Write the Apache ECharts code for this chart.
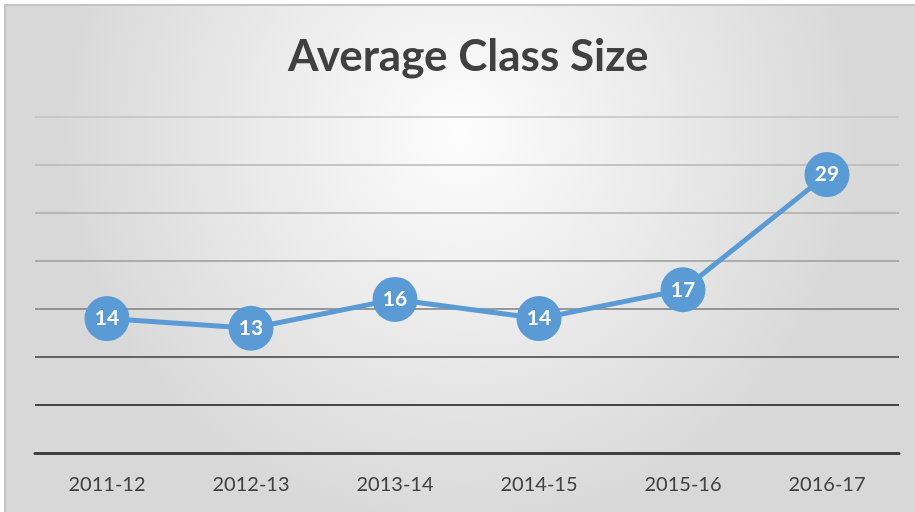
<!DOCTYPE html>
<html>
<head>
<meta charset="utf-8">
<script src="https://cdn.jsdelivr.net/npm/echarts@6/dist/echarts.min.js"></script>
<style>
  html, body { margin: 0; padding: 0; background: #ffffff; }
  /* chart frame: only the top and left borders are visible in the picture */
  #chart {
    position: absolute;
    left: 4px;
    top: 4px;
    width: 909px;
    height: 506px;
    border-top: 2px solid #c4c4c4;
    border-left: 2px solid #c4c4c4;
  }
</style>
</head>
<body>
<div id="chart"></div>
<script>
// data
const years = ['2011-12', '2012-13', '2013-14', '2014-15', '2015-16', '2016-17'];
const classSize = [14, 13, 16, 14, 17, 29];

// gridline colours, bottom to top (value 0, 5, 10 ... 35)
const gridColors = ['#404040', '#141414', '#3c3c3c', '#7c7c7c', '#9a9a9a', '#ababab', '#b6b6b6', '#c2c2c2'];

const chart = echarts.init(document.getElementById('chart'));

const option = {
  backgroundColor: {
    type: 'radial', x: 0.5, y: 0.25, r: 0.8,
    colorStops: [
      { offset: 0, color: '#fdfdfd' },
      { offset: 1, color: '#d8d8d8' }
    ]
  },
  animation: false,
  title: {
    text: 'Average Class Size',
    left: 277,
    top: 24,
    textStyle: {
      fontFamily: 'Lato',
      fontWeight: 'bold',
      fontSize: 44,
      color: '#404040'
    }
  },
  grid: { left: 29, right: 16, top: 111, bottom: 59 },
  xAxis: {
    type: 'category',
    data: years,
    boundaryGap: true,
    axisLine: { lineStyle: { color: '#404040', width: 3 } },
    axisTick: { show: false },
    axisLabel: {
      margin: 22,
      fontFamily: 'Lato',
      fontSize: 20,
      color: '#404040'
    }
  },
  yAxis: {
    type: 'value',
    min: 0,
    max: 35,
    interval: 5,
    axisLabel: { show: false },
    axisLine: { show: false },
    axisTick: { show: false },
    splitLine: { lineStyle: { color: gridColors, width: 1.5 } }
  },
  series: [{
    type: 'line',
    data: classSize,
    symbol: 'circle',
    symbolSize: 45,
    itemStyle: { color: '#5b9bd5' },
    lineStyle: { color: '#5b9bd5', width: 5 },
    label: {
      show: true,
      position: 'inside',
      color: '#ffffff',
      fontFamily: 'Lato',
      fontWeight: 'bold',
      fontSize: 21
    }
  }]
};

chart.setOption(option);
</script>
</body>
</html>
